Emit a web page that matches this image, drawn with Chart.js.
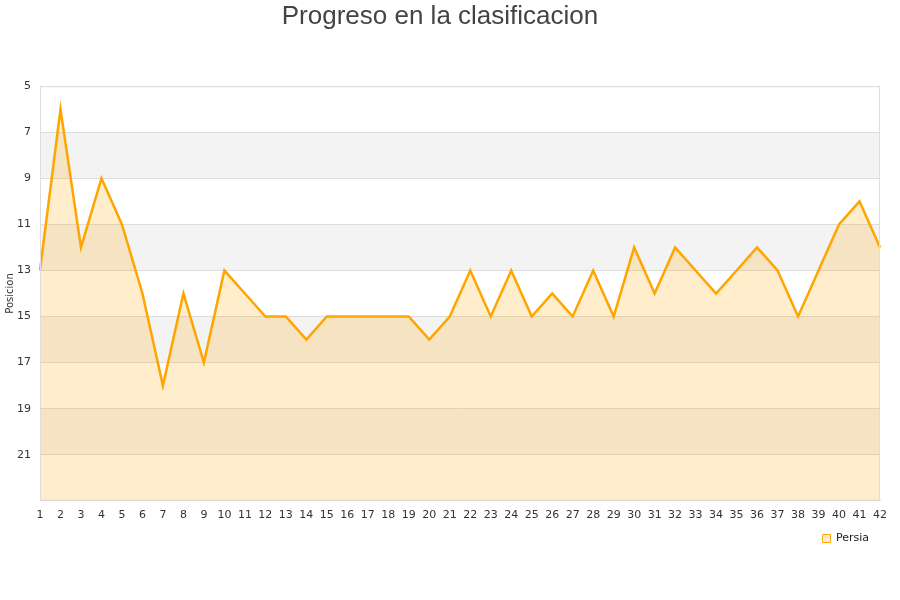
<!DOCTYPE html>
<html>
<head>
<meta charset="utf-8">
<script src="https://cdn.jsdelivr.net/npm/chart.js@4/dist/chart.umd.min.js"></script>
<style>
    html, body { margin: 0; padding: 0; background: #fff; }
    #wrap { width: 900px; height: 600px; }
</style>
</head>
<body>
<div id="wrap"><canvas id="chart"></canvas></div>
<script>
const jornadas = [];
for (let i = 1; i <= 42; i++) jornadas.push(String(i));

const posiciones = [13, 6, 12, 9, 11, 14, 18, 14, 17, 13, 14, 15, 15, 16, 15, 15, 15, 15, 15, 16, 15,
    13, 15, 13, 15, 14, 15, 13, 15, 12, 14, 12, 13, 14, 13, 12, 13, 15, 13, 11, 10, 12];

const equipo = 'Persia';
const posMin = 5;
const posMax = 23;

// franjas alternas grises detras de la linea
const bandsPlugin = {
    id: 'bands',
    beforeDraw(chart) {
        const { ctx, chartArea } = chart;
        const y = chart.scales.y;
        ctx.save();
        for (let v = posMin + 2; v < posMax; v += 4) {
            const top = y.getPixelForValue(v);
            const bottom = y.getPixelForValue(v + 2);
            ctx.fillStyle = '#f3f3f3';
            ctx.fillRect(chartArea.left, top, chartArea.right - chartArea.left, bottom - top);
        }
        ctx.restore();
    },
    afterDraw(chart) {
        const { ctx, chartArea } = chart;
        ctx.save();
        ctx.strokeStyle = '#dddddd';
        ctx.lineWidth = 1;
        ctx.strokeRect(chartArea.left + 0.5, chartArea.top + 0.5,
            chartArea.right - chartArea.left - 1, chartArea.bottom - chartArea.top - 1);
        ctx.restore();
    }
};

new Chart(document.getElementById('chart'), {
    type: 'line',
    data: {
        labels: jornadas,
        datasets: [{
            label: equipo,
            data: posiciones,
            borderColor: '#ffa500',
            backgroundColor: 'rgba(255, 165, 0, 0.2)',
            borderWidth: 2.5,
            pointRadius: 0,
            tension: 0,
            fill: 'start',
        }]
    },
    options: {
        responsive: true,
        maintainAspectRatio: false,
        animation: false,
        layout: { padding: { left: 0, right: 20, top: 1, bottom: 46 } },
        plugins: {
            title: {
                display: true,
                text: 'Progreso en la clasificacion',
                color: '#444444',
                font: { family: 'Liberation Sans', size: 26, weight: 'normal' },
                padding: { top: 0, bottom: 54 },
            },
            legend: {
                position: 'bottom',
                align: 'end',
                labels: {
                    boxWidth: 8,
                    boxHeight: 8,
                    padding: 11,
                    color: '#222',
                    font: { family: 'DejaVu Sans', size: 11 },
                    generateLabels: (chart) => {
                        const items = Chart.defaults.plugins.legend.labels.generateLabels(chart);
                        items.forEach((it) => { it.lineWidth = 1; });
                        return items;
                    },
                },
            },
            tooltip: { enabled: false },
        },
        scales: {
            x: {
                grid: { display: false },
                border: { color: '#dddddd' },
                ticks: {
                    color: '#333',
                    font: { family: 'DejaVu Sans', size: 11 },
                    maxRotation: 0,
                    autoSkip: false,
                    padding: 0,
                },
            },
            y: {
                reverse: true,
                min: posMin,
                max: posMax,
                grid: { color: '#dddddd', tickLength: 0 },
                border: { color: '#dddddd' },
                ticks: {
                    stepSize: 2,
                    color: '#333',
                    padding: 9,
                    font: { family: 'DejaVu Sans', size: 11 },
                    callback: (v) => (v === posMax ? '' : v),
                },
                title: {
                    display: true,
                    text: 'Posicion',
                    color: '#333',
                    font: { family: 'DejaVu Sans', size: 10 },
                    padding: { top: 4, bottom: 0 },
                },
                afterFit: (s) => { s.width = 40; },
            },
        },
    },
    plugins: [bandsPlugin],
});
</script>
</body>
</html>
